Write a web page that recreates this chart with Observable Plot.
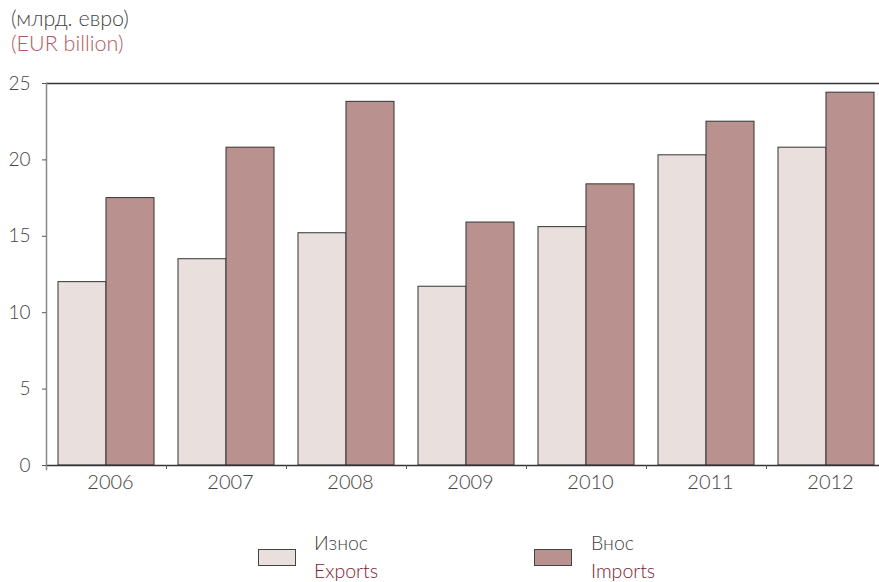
<!DOCTYPE html>
<html>
<head>
<meta charset="utf-8">
<script src="https://cdn.jsdelivr.net/npm/d3@7"></script>
<script src="https://cdn.jsdelivr.net/npm/@observablehq/plot@0.6"></script>
<style>
  html, body { margin: 0; padding: 0; background: #fff; }
  body { width: 879px; height: 582px; position: relative; overflow: hidden;
         font-family: Lato, "Open Sans", sans-serif; font-weight: 300; }
  #title { position: absolute; left: 11px; top: 6px; font-size: 21.5px; line-height: 25px; }
  #title .bg { color: #444; }
  #title .en { color: #b05a60; }
  #chart { position: absolute; left: 0; top: 0; }
  .swatch { position: absolute; top: 549px; width: 36px; height: 15px; border: 1px solid #444; }
  .legend-text { position: absolute; top: 529px; font-size: 19.5px; line-height: 28px; }
  .legend-text .bg { color: #444; }
  .legend-text .en { color: #7a2230; }
</style>
</head>
<body>
<div id="title"><div class="bg">(млрд. евро)</div><div class="en">(EUR billion)</div></div>
<div id="chart"></div>
<div class="swatch" id="sw-exports" style="left:258px"></div>
<div class="legend-text" style="left:314px"><div class="bg">Износ</div><div class="en">Exports</div></div>
<div class="swatch" id="sw-imports" style="left:534px"></div>
<div class="legend-text" style="left:591px"><div class="bg">Внос</div><div class="en">Imports</div></div>
<script>
// Exports and imports of goods, EUR billion
const years = ["2006", "2007", "2008", "2009", "2010", "2011", "2012"];
const exportsValues = [12.0, 13.5, 15.2, 11.7, 15.6, 20.3, 20.8];
const importsValues = [17.5, 20.8, 23.8, 15.9, 18.4, 22.5, 24.4];
const yTicks = [0, 5, 10, 15, 20, 25];

const exportColor = "#e9dfdd";
const importColor = "#b9918e";
document.getElementById("sw-exports").style.background = exportColor;
document.getElementById("sw-imports").style.background = importColor;

const exportsData = years.map((year, i) => ({year, value: exportsValues[i]}));
const importsData = years.map((year, i) => ({year, value: importsValues[i]}));

const chart = Plot.plot({
  width: 879,
  height: 500,
  marginTop: 83,
  marginBottom: 35,
  marginLeft: 46,
  marginRight: 0,
  style: {fontFamily: "Lato, 'Open Sans', sans-serif", fontWeight: 300, fontSize: "18px", color: "#444", overflow: "hidden"},
  x: {domain: years, range: [46, 886], paddingInner: 0.2, paddingOuter: 0.1, axis: null},
  y: {domain: [0, 25], axis: null},
  marks: [
    Plot.barY(exportsData, {x: "year", y: "value", fill: exportColor, stroke: "#333", strokeWidth: 1, insetRight: 48}),
    Plot.barY(importsData, {x: "year", y: "value", fill: importColor, stroke: "#333", strokeWidth: 1, insetLeft: 48}),
    Plot.ruleY([0, 25], {stroke: "#333", strokeWidth: 1.5}),
    Plot.frame({anchor: "left", stroke: "#888", strokeWidth: 1.5, insetBottom: -4}),
    Plot.axisY({ticks: yTicks, tickSize: 4, tickPadding: 12, stroke: "#555", fill: "#444", fontSize: 19, label: null}),
    Plot.axisX({tickSize: 0, tickPadding: 9, dx: 4, fill: "#444", fontSize: 20, label: null}),
    Plot.axisX({ticks: years.slice(0, 6), tickSize: 4, dx: 60, tickFormat: () => "", stroke: "#555", label: null})
  ]
});
document.getElementById("chart").appendChild(chart);
</script>
</body>
</html>
